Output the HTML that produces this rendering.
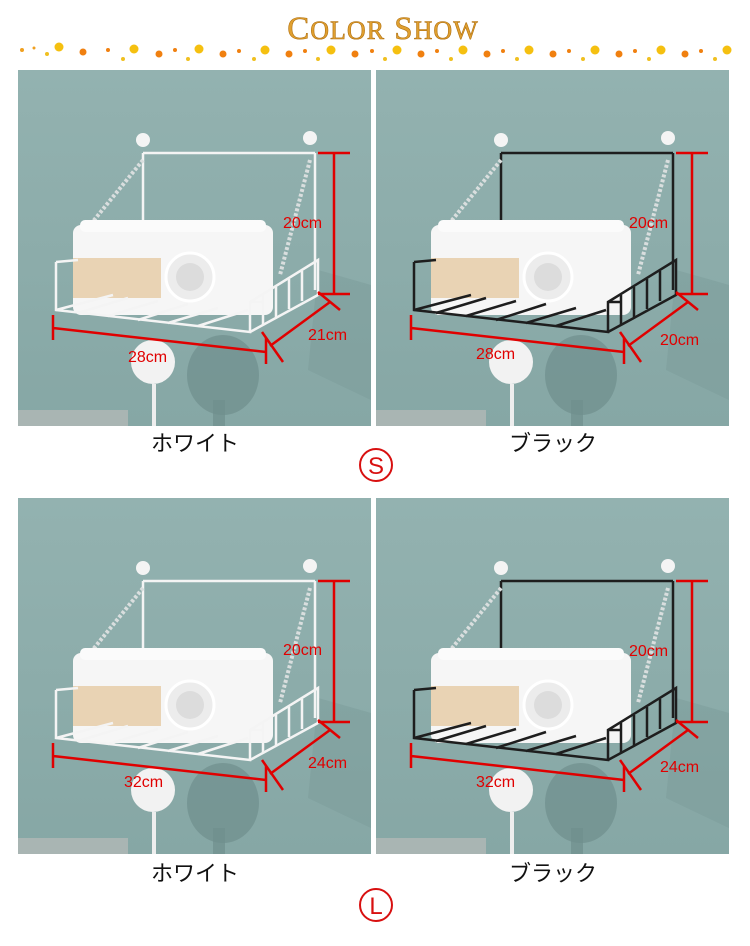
<!DOCTYPE html>
<html><head><meta charset="utf-8"><style>
body{margin:0;background:#fff;}
svg{display:block}
.lbl{font-family:"Liberation Sans","Noto Sans CJK JP",sans-serif;font-size:22px;fill:#111}
.dim{font-family:"Liberation Sans",sans-serif;font-size:16px;fill:#e00000}
</style></head><body>
<svg width="750" height="946" viewBox="0 0 750 946" xmlns="http://www.w3.org/2000/svg">
<defs>
<linearGradient id="bg" x1="0" y1="0" x2="0" y2="1"><stop offset="0" stop-color="#93b2b0"/><stop offset="1" stop-color="#86a7a5"/></linearGradient>
<g id="panel">
  <rect x="0" y="0" width="353" height="356" fill="url(#bg)"/>
  <path d="M300 200 L353 215 L353 330 L290 300 Z" fill="#7c9c9a" opacity="0.5"/>
  <rect x="0" y="340" width="110" height="16" fill="#a9b5b3"/>
  <ellipse cx="205" cy="305" rx="36" ry="40" fill="#6f8f8d" opacity="0.7"/>
  <rect x="195" y="330" width="12" height="26" fill="#6f8f8d" opacity="0.7"/>
  <circle cx="135" cy="292" r="22" fill="#f2f2f2"/>
  <path d="M136 314 L136 356" stroke="#eee" stroke-width="4"/>
  <circle cx="125" cy="70" r="7" fill="#f4f4f4"/>
  <circle cx="292" cy="68" r="7" fill="#f4f4f4"/>
  <g fill="none" stroke="currentColor" stroke-width="2.5">
    <path d="M125 83 L297 83 M125 83 L125 190 M297 83 L297 220"/>
  </g>
  <path d="M125 90 L68 160 M292 90 L262 205" stroke="#d9dede" stroke-width="4" stroke-dasharray="3 2"/>
  <rect x="55" y="155" width="200" height="90" rx="8" fill="#f6f6f6"/>
  <rect x="62" y="150" width="186" height="12" rx="5" fill="#fbfbfb"/>
  <rect x="55" y="188" width="88" height="40" fill="#e9d3b4"/>
  <circle cx="172" cy="207" r="24" fill="#ececec" stroke="#fff" stroke-width="3"/>
  <circle cx="172" cy="207" r="14" fill="#dcdcdc"/>
  <g fill="none" stroke="currentColor" stroke-width="2.5">
    <path d="M38 192 L38 240 L232 262 L232 232 L300 190 L300 225 L232 262"/>
    <path d="M38 192 L60 190 M232 232 L245 232"/>
    <path d="M38 240 L95 225 M60 243 L110 228 M90 246 L140 231 M120 250 L170 234 M150 253 L200 238 M180 256 L230 240"/>
    <path d="M245 255 L245 225 M258 247 L258 217 M271 239 L271 209 M284 231 L284 201"/>
  </g>
  <g stroke="#e00000" stroke-width="2.5" fill="none">
    <path d="M300 83 L332 83 M316 83 L316 224 M300 224 L332 224"/>
    <path d="M35 258 L248 282 M35 245 L35 270 M248 268 L248 294"/>
    <path d="M252 276 L312 232 M244 262 L265 292 M300 222 L322 240"/>
  </g>
</g>
</defs>
<text x="383" y="39" text-anchor="middle" font-family="Liberation Serif,serif" font-size="33" fill="#e0a030" stroke="#b07010" stroke-width="0.6" letter-spacing="1">C<tspan font-size="26">OLOR</tspan> S<tspan font-size="26">HOW</tspan></text>
<g id="dots">
<circle cx="22" cy="50" r="2" fill="#f0a020"/><circle cx="34" cy="48" r="1.5" fill="#f0a020"/><circle cx="47" cy="54" r="2" fill="#f0c020"/><circle cx="59" cy="47" r="4.5" fill="#f5c010"/><circle cx="83" cy="52" r="3.5" fill="#f08010"/><circle cx="108" cy="50" r="2" fill="#f08010"/><circle cx="123" cy="59" r="2" fill="#f0c020"/><circle cx="134" cy="49" r="4.5" fill="#f5c010"/><circle cx="159" cy="54" r="3.5" fill="#f08010"/><circle cx="175" cy="50" r="2" fill="#f08010"/><circle cx="188" cy="59" r="2" fill="#f0c020"/><circle cx="199" cy="49" r="4.5" fill="#f5c010"/><circle cx="223" cy="54" r="3.5" fill="#f08010"/><circle cx="239" cy="51" r="2" fill="#f08010"/><circle cx="254" cy="59" r="2" fill="#f0c020"/><circle cx="265" cy="50" r="4.5" fill="#f5c010"/><circle cx="289" cy="54" r="3.5" fill="#f08010"/><circle cx="305" cy="51" r="2" fill="#f08010"/><circle cx="318" cy="59" r="2" fill="#f0c020"/><circle cx="331" cy="50" r="4.5" fill="#f5c010"/><circle cx="355" cy="54" r="3.5" fill="#f08010"/><circle cx="372" cy="51" r="2" fill="#f08010"/><circle cx="385" cy="59" r="2" fill="#f0c020"/><circle cx="397" cy="50" r="4.5" fill="#f5c010"/><circle cx="421" cy="54" r="3.5" fill="#f08010"/><circle cx="437" cy="51" r="2" fill="#f08010"/><circle cx="451" cy="59" r="2" fill="#f0c020"/><circle cx="463" cy="50" r="4.5" fill="#f5c010"/><circle cx="487" cy="54" r="3.5" fill="#f08010"/><circle cx="503" cy="51" r="2" fill="#f08010"/><circle cx="517" cy="59" r="2" fill="#f0c020"/><circle cx="529" cy="50" r="4.5" fill="#f5c010"/><circle cx="553" cy="54" r="3.5" fill="#f08010"/><circle cx="569" cy="51" r="2" fill="#f08010"/><circle cx="583" cy="59" r="2" fill="#f0c020"/><circle cx="595" cy="50" r="4.5" fill="#f5c010"/><circle cx="619" cy="54" r="3.5" fill="#f08010"/><circle cx="635" cy="51" r="2" fill="#f08010"/><circle cx="649" cy="59" r="2" fill="#f0c020"/><circle cx="661" cy="50" r="4.5" fill="#f5c010"/><circle cx="685" cy="54" r="3.5" fill="#f08010"/><circle cx="701" cy="51" r="2" fill="#f08010"/><circle cx="715" cy="59" r="2" fill="#f0c020"/><circle cx="727" cy="50" r="4.5" fill="#f5c010"/>
</g>
<use href="#panel" x="18" y="70" style="color:#f4f4f4"/>
<use href="#panel" x="376" y="70" style="color:#1e1e1e"/>
<use href="#panel" x="18" y="498" style="color:#f4f4f4"/>
<use href="#panel" x="376" y="498" style="color:#1e1e1e"/>
<text class="dim" x="283" y="228">20cm</text><text class="dim" x="308" y="340">21cm</text><text class="dim" x="128" y="362">28cm</text>
<text class="dim" x="629" y="228">20cm</text><text class="dim" x="660" y="345">20cm</text><text class="dim" x="476" y="359">28cm</text>
<text class="dim" x="283" y="655">20cm</text><text class="dim" x="308" y="768">24cm</text><text class="dim" x="124" y="787" font-size="20">32cm</text>
<text class="dim" x="629" y="656">20cm</text><text class="dim" x="660" y="772">24cm</text><text class="dim" x="476" y="787">32cm</text>
<text class="lbl" x="195" y="451" text-anchor="middle">ホワイト</text>
<text class="lbl" x="553" y="451" text-anchor="middle">ブラック</text>
<text class="lbl" x="195" y="881" text-anchor="middle">ホワイト</text>
<text class="lbl" x="553" y="881" text-anchor="middle">ブラック</text>
<circle cx="376" cy="465" r="16" fill="none" stroke="#d81010" stroke-width="2"/>
<text x="376" y="474" text-anchor="middle" font-family="Liberation Sans,sans-serif" font-size="24" fill="#d81010">S</text>
<circle cx="376" cy="905" r="16" fill="none" stroke="#d81010" stroke-width="2"/>
<text x="376" y="914" text-anchor="middle" font-family="Liberation Sans,sans-serif" font-size="24" fill="#d81010">L</text>
</svg>
</body></html>
